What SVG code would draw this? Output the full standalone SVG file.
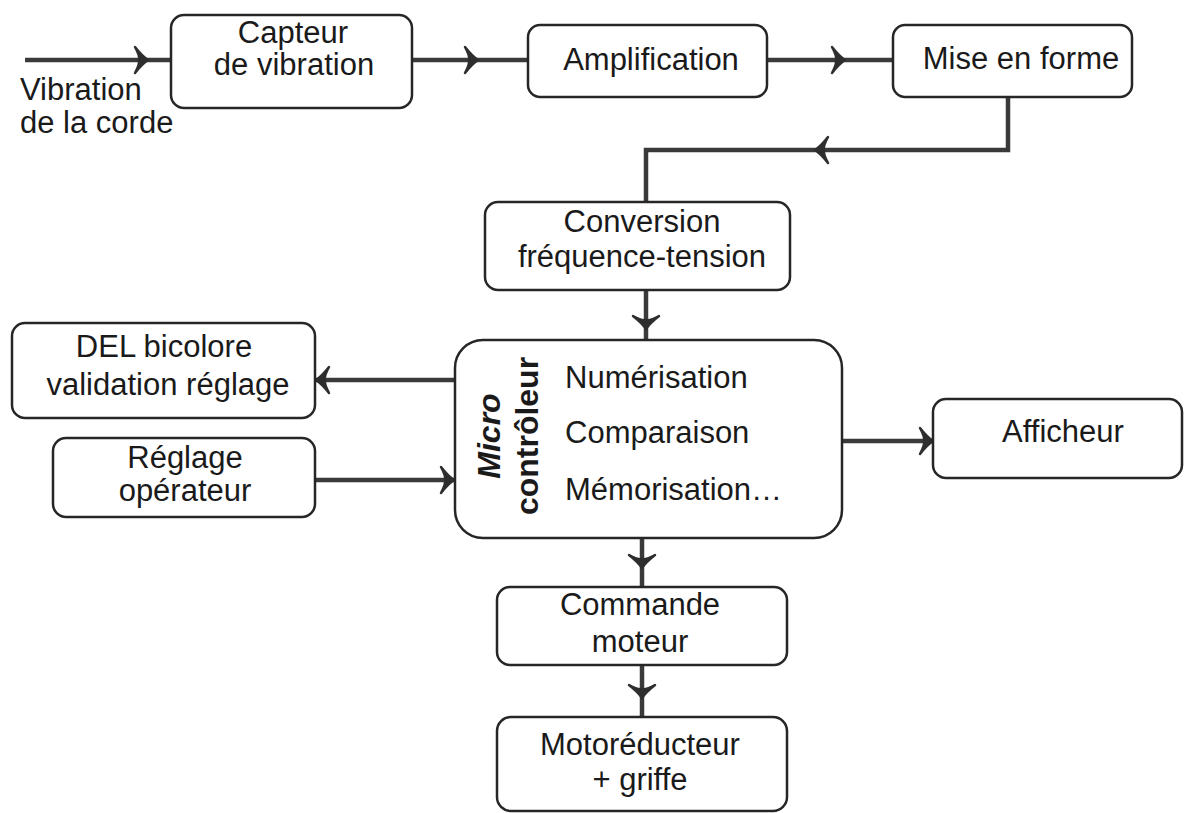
<svg xmlns="http://www.w3.org/2000/svg" width="1185" height="813" viewBox="0 0 1185 813">
<style>
.box{fill:#fff;stroke:#262626;stroke-width:2.5}
.t{font-family:"Liberation Sans",Arial,sans-serif;font-size:31px;fill:#1a1a1a;text-anchor:middle}
.tl{font-family:"Liberation Sans",Arial,sans-serif;font-size:31px;fill:#1a1a1a}
.c{fill:none;stroke:#3a3a3a;stroke-width:4.5;stroke-linejoin:miter}
.ah{fill:#2e2e2e;stroke:#2e2e2e;stroke-width:2.5;stroke-linejoin:round}
</style>
<defs>
<path id="ah" class="ah" d="M1,0 Q-5,-4 -12,-13 Q-7,-4 -8,0 Q-7,4 -12,13 Q-5,4 1,0 Z"/>
</defs>
<rect width="1185" height="813" fill="#fff"/>
<g id="connectors">
<path class="c" d="M25,60 H171"/>
<use href="#ah" transform="translate(147,60)"/>
<path class="c" d="M412,60 H528"/>
<use href="#ah" transform="translate(477,60)"/>
<path class="c" d="M767,60 H893"/>
<use href="#ah" transform="translate(844,60)"/>
<path class="c" d="M1008,97 V150 H646 V202"/>
<use href="#ah" transform="translate(816,150) rotate(180)"/>
<path class="c" d="M646,290 V340"/>
<use href="#ah" transform="translate(646,328) rotate(90)"/>
<path class="c" d="M455,380 H315"/>
<use href="#ah" transform="translate(317,380) rotate(180)"/>
<path class="c" d="M313,480 H455"/>
<use href="#ah" transform="translate(453,480)"/>
<path class="c" d="M842,441 H933"/>
<use href="#ah" transform="translate(932,441)"/>
<path class="c" d="M642,538 V587"/>
<use href="#ah" transform="translate(642,567) rotate(90)"/>
<path class="c" d="M642,665 V717"/>
<use href="#ah" transform="translate(642,697) rotate(90)"/>
</g>
<g id="input-label">
<text class="tl" x="20" y="100">Vibration</text>
<text class="tl" x="20" y="133">de la corde</text>
</g>
<g id="capteur">
<rect class="box" x="171" y="15" width="241" height="93" rx="13"/>
<text class="t" x="293" y="43">Capteur</text>
<text class="t" x="294" y="75">de vibration</text>
</g>
<g id="amplification">
<rect class="box" x="528" y="25" width="239" height="72" rx="12"/>
<text class="t" x="651" y="70">Amplification</text>
</g>
<g id="mise-en-forme">
<rect class="box" x="893" y="25" width="239" height="72" rx="12"/>
<text class="t" x="1021" y="69">Mise en forme</text>
</g>
<g id="conversion">
<rect class="box" x="485" y="202" width="305" height="88" rx="13"/>
<text class="t" x="642" y="232">Conversion</text>
<text class="t" x="642" y="267">fréquence-tension</text>
</g>
<g id="microcontroleur">
<rect class="box" x="455" y="340" width="387" height="198" rx="28"/>
<text class="t" transform="translate(500,436) rotate(-90)" style="font-weight:bold;font-style:italic;font-size:32px">Micro</text>
<text class="t" transform="translate(538,436) rotate(-90)" style="font-weight:bold;font-size:32px">contrôleur</text>
<text class="tl" x="565" y="388">Numérisation</text>
<text class="tl" x="565" y="443">Comparaison</text>
<text class="tl" x="565" y="500">Mémorisation…</text>
</g>
<g id="del">
<rect class="box" x="12" y="323" width="303" height="95" rx="13"/>
<text class="t" x="164" y="357">DEL bicolore</text>
<text class="t" x="168" y="395">validation réglage</text>
</g>
<g id="reglage">
<rect class="box" x="53" y="438" width="262" height="79" rx="13"/>
<text class="t" x="185" y="468">Réglage</text>
<text class="t" x="185" y="501">opérateur</text>
</g>
<g id="afficheur">
<rect class="box" x="933" y="399" width="249" height="79" rx="13"/>
<text class="t" x="1063" y="442">Afficheur</text>
</g>
<g id="commande">
<rect class="box" x="497" y="587" width="290" height="78" rx="13"/>
<text class="t" x="640" y="615">Commande</text>
<text class="t" x="640" y="652">moteur</text>
</g>
<g id="motoreducteur">
<rect class="box" x="497" y="717" width="290" height="94" rx="14"/>
<text class="t" x="640" y="755">Motoréducteur</text>
<text class="t" x="640" y="790">+ griffe</text>
</g>
</svg>
